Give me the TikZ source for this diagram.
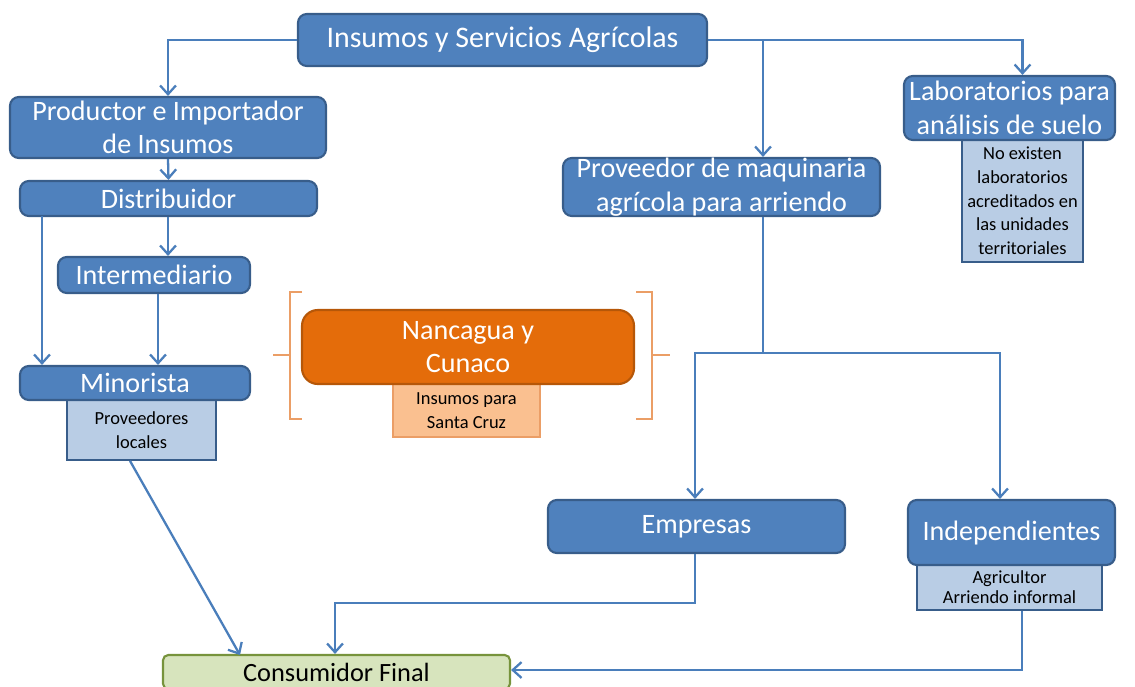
\documentclass[tikz,border=0pt]{standalone}
\usepackage{fontspec}
\setmainfont{Carlito}
\usetikzlibrary{arrows.meta}

\definecolor{azul}{HTML}{4F81BD}
\definecolor{azulosc}{HTML}{385D8A}
\definecolor{celeste}{HTML}{B9CDE5}
\definecolor{flujoc}{HTML}{4A7EBB}
\definecolor{naranja}{HTML}{E46C0A}
\definecolor{naranjaosc}{HTML}{B65708}
\definecolor{durazno}{HTML}{FAC090}
\definecolor{llave}{HTML}{EB9E66}
\definecolor{verde}{HTML}{D7E4BD}
\definecolor{verdeosc}{HTML}{77933C}

\begin{document}
\begin{tikzpicture}[x=0.02cm,y=-0.02cm,
    tam/.style 2 args={minimum width=#1*0.02cm, minimum height=#2*0.02cm},
    caja/.style={draw=azulosc, fill=azul, line width=1.2pt, rounded corners=5pt,
      text=white, align=center, inner sep=0pt, font=\fontsize{16}{19}\selectfont},
    nota/.style={draw=azulosc, fill=celeste, line width=1pt, align=center,
      inner sep=0pt, font=\fontsize{10.5}{13.5}\selectfont},
    flujo/.style={draw=flujoc, line width=1.3pt, -{Straight Barb[length=5pt,width=9pt]}},
    tramo/.style={draw=flujoc, line width=1.3pt}]
    \useasboundingbox (0,0) rectangle (1135,686);

    % notas debajo de las cajas
    \node[nota, tam={149}{60}] (locales) at (141.5,430) {Proveedores\\locales};
    \node[nota, tam={121}{122}] (noexisten) at (1022.5,201)
      {No existen\\laboratorios\\acreditados en\\las unidades\\territoriales};
    \node[nota, tam={185}{45}, font=\fontsize{10.5}{11.5}\selectfont] (agricultor) at (1009.5,587.5)
      {Agricultor\\Arriendo informal};
    \node[nota, tam={147}{53}, draw=llave, fill=durazno] (santacruz) at (466.5,410.5)
      {Insumos para\\Santa Cruz};

    % cajas principales
    \node[caja, tam={409}{52}, font=\fontsize{17}{20}\selectfont] (insumos) at (502.5,40) {Insumos y Servicios Agrícolas};
    \node[caja, tam={316}{61}] (productor) at (168,127.5) {Productor e Importador\\de Insumos};
    \node[caja, tam={297}{35}] (distrib) at (168.5,198.5) {Distribuidor};
    \node[caja, tam={192}{36}] (intermed) at (154,275) {Intermediario};
    \node[caja, tam={230}{34}] (minorista) at (135,383) {Minorista};
    \node[caja, tam={317}{58}] (maquinaria) at (721.5,187) {Proveedor de maquinaria\\agrícola para arriendo};
    \node[caja, tam={211}{64}] (labs) at (1009.5,108) {Laboratorios para\\análisis de suelo};
    \node[caja, tam={297}{53}] (empresas) at (696.5,526.5) {Empresas};
    \node[caja, tam={207}{65}] (indep) at (1011.5,532.5) {Independientes};
    \node[caja, tam={332}{74}, draw=naranjaosc, fill=naranja, rounded corners=9pt] (nancagua) at (468,347)
      {Nancagua y\\Cunaco};
    \node[caja, tam={347}{34}, draw=verdeosc, fill=verde, text=black, rounded corners=3pt,
      font=\fontsize{15}{18}\selectfont] (consumidor) at (336.5,672)
      {Consumidor Final};

    % llaves alrededor de Nancagua
    \draw[llave, line width=1.2pt] (302,292) -- (290,292) -- (290,419) -- (302,419);
    \draw[llave, line width=1.2pt] (290,355) -- (273,355);
    \draw[llave, line width=1.2pt] (636,292) -- (652,292) -- (652,419) -- (636,419);
    \draw[llave, line width=1.2pt] (652,355) -- (670,355);

    % puntos de quiebre
    \coordinate (rmaq) at (763,40);
    \coordinate (split) at (763,353);
    \coordinate (bajaemp) at (695,603);
    \coordinate (bajaagr) at (1022,670);
    \coordinate (finlocal) at (240,655);
    \coordinate (izqdist) at (42,216);

    \draw[flujo] (insumos.west) -| (productor.north);
    \draw[flujo] (insumos.east) -| (labs.north -| noexisten.north);
    \draw[flujo] (rmaq) -- (maquinaria.north -| rmaq);
    \draw[flujo] (productor.south) -- (distrib.north);
    \draw[flujo] (distrib.south -| productor.south) -- (intermed.north -| productor.south);
    \draw[flujo] (izqdist) -- (minorista.north -| izqdist);
    \draw[flujo] (intermed.south -| 158,0) -- (minorista.north -| 158,0);
    \draw[flujo] (locales.south -| 130,0) -- (finlocal);

    \draw[tramo] (maquinaria.south -| rmaq) -- (split);
    \draw[flujo] (split) -| (empresas.north -| bajaemp);
    \draw[flujo] (split) -| (indep.north -| 1000,0);
    \draw[flujo] (empresas.south -| bajaemp) -- (bajaemp) -| (consumidor.north -| 335,0);
    \draw[flujo] (agricultor.south -| bajaagr) -- (bajaagr) -- (consumidor.east |- bajaagr);
\end{tikzpicture}
\end{document}
